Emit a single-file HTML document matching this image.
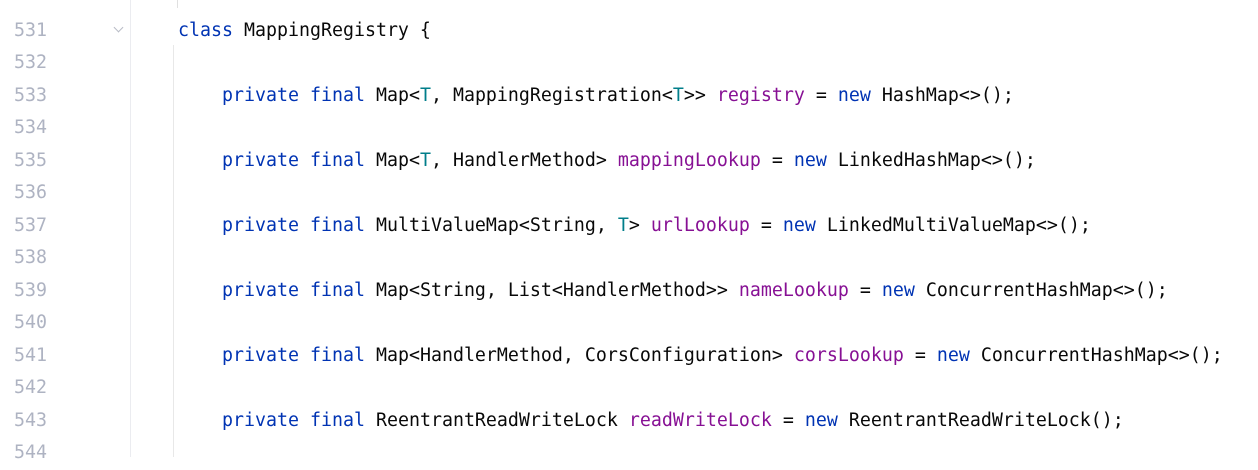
<!DOCTYPE html>
<html><head><style>
body{margin:0;width:1258px;height:457px;background:#fff;overflow:hidden;position:relative;font-family:"DejaVu Sans Mono","Liberation Mono",monospace;font-size:18.27px;}
.g{position:absolute;left:130px;top:0;width:1px;height:457px;background:#ebecf0}
.ln{position:absolute;left:14px;color:#aeb3c2;height:32.5px;line-height:32.5px}
.c{position:absolute;height:32.5px;line-height:32.5px;color:#080808;white-space:pre}
.k{color:#0033b3}.f{color:#871094}.t{color:#007e8a}
.v1{position:absolute;left:177px;top:0;width:1px;height:8px;background:#e0e0e0}
.v2{position:absolute;left:173px;top:45px;width:1px;height:412px;background:#e8e8e8}
.fold{position:absolute;left:115px;top:24px;width:6px;height:6px;border-right:1px solid #b8bcc6;border-bottom:1px solid #b8bcc6;transform:rotate(45deg)}
</style></head><body>
<div class="g"></div><div class="v1"></div><div class="v2"></div><div class="fold"></div>
<div class="ln" style="top:14.75px">531</div>
<div class="ln" style="top:47.25px">532</div>
<div class="ln" style="top:79.75px">533</div>
<div class="ln" style="top:112.25px">534</div>
<div class="ln" style="top:144.75px">535</div>
<div class="ln" style="top:177.25px">536</div>
<div class="ln" style="top:209.75px">537</div>
<div class="ln" style="top:242.25px">538</div>
<div class="ln" style="top:274.75px">539</div>
<div class="ln" style="top:307.25px">540</div>
<div class="ln" style="top:339.75px">541</div>
<div class="ln" style="top:372.25px">542</div>
<div class="ln" style="top:404.75px">543</div>
<div class="ln" style="top:437.25px">544</div>
<div class="c" style="left:178px;top:14.75px"><span class="k">class</span> MappingRegistry {</div>
<div class="c" style="left:222px;top:79.75px"><span class="k">private final</span> Map&lt;<span class="t">T</span>, MappingRegistration&lt;<span class="t">T</span>&gt;&gt; <span class="f">registry</span> = <span class="k">new</span> HashMap&lt;&gt;();</div>
<div class="c" style="left:222px;top:144.75px"><span class="k">private final</span> Map&lt;<span class="t">T</span>, HandlerMethod&gt; <span class="f">mappingLookup</span> = <span class="k">new</span> LinkedHashMap&lt;&gt;();</div>
<div class="c" style="left:222px;top:209.75px"><span class="k">private final</span> MultiValueMap&lt;String, <span class="t">T</span>&gt; <span class="f">urlLookup</span> = <span class="k">new</span> LinkedMultiValueMap&lt;&gt;();</div>
<div class="c" style="left:222px;top:274.75px"><span class="k">private final</span> Map&lt;String, List&lt;HandlerMethod&gt;&gt; <span class="f">nameLookup</span> = <span class="k">new</span> ConcurrentHashMap&lt;&gt;();</div>
<div class="c" style="left:222px;top:339.75px"><span class="k">private final</span> Map&lt;HandlerMethod, CorsConfiguration&gt; <span class="f">corsLookup</span> = <span class="k">new</span> ConcurrentHashMap&lt;&gt;();</div>
<div class="c" style="left:222px;top:404.75px"><span class="k">private final</span> ReentrantReadWriteLock <span class="f">readWriteLock</span> = <span class="k">new</span> ReentrantReadWriteLock();</div>
</body></html>
